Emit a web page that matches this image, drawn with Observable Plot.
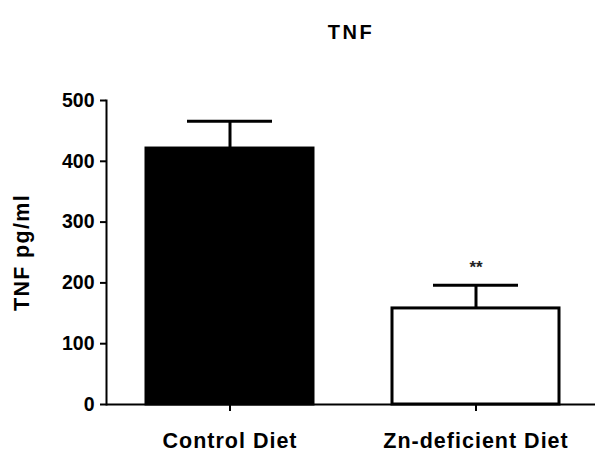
<!DOCTYPE html>
<html>
<head>
<meta charset="utf-8">
<script src="https://cdn.jsdelivr.net/npm/d3@7"></script>
<script src="https://cdn.jsdelivr.net/npm/@observablehq/plot@0.6"></script>
<style>
  body { margin: 0; background: #fff; }
  svg { font-family: "Liberation Sans", Arial, sans-serif; }
  g[aria-label="x-axis tick label"] text { letter-spacing: 1px; }
  .ylab text { letter-spacing: 1.3px; }
  .title text { letter-spacing: 2.5px; }
</style>
</head>
<body>
<div id="chart"></div>
<script>
const categories = ["Control Diet", "Zn-deficient Diet"];
const means = [421, 158];
const sems = [45, 38];
const significance = ["", "**"];
const yTicks = [0, 100, 200, 300, 400, 500];
const title = "TNF";
const yLabel = "TNF pg/ml";

const data = categories.map((c, i) => ({cat: c, mean: means[i], top: means[i] + sems[i], sig: significance[i]}));

const chart = Plot.plot({
  width: 595,
  height: 452,
  marginLeft: 106,
  marginRight: 0,
  marginTop: 100,
  marginBottom: 48,
  style: {fontFamily: "'Liberation Sans', Arial, sans-serif", fontWeight: "bold", color: "#000", background: "#fff"},
  x: {domain: categories, range: [106, 599], paddingInner: 0.32, paddingOuter: 0.16, label: null},
  y: {domain: [0, 500], label: null},
  marks: [
    Plot.barY(data, {x: "cat", y: "mean", fill: (d, i) => i === 0 ? "#000" : "#fff", stroke: "#000", strokeWidth: 3}),
    Plot.ruleX(data, {x: "cat", y1: "mean", y2: "top", stroke: "#000", strokeWidth: 3}),
    Plot.tickY(data, {x: "cat", y: "top", stroke: "#000", strokeWidth: 3, insetLeft: 41, insetRight: 41}),
    Plot.text(data, {x: "cat", y: "top", text: "sig", dy: -18, fontSize: 17, fontWeight: "bold", fill: "#222"}),
    Plot.ruleY([0], {stroke: "#000", strokeWidth: 2}),
    Plot.frame({anchor: "left", stroke: "#000", strokeWidth: 2}),
    Plot.axisY({ticks: yTicks, tickSize: 6, tickPadding: 6, fontSize: 19.5, fontWeight: "bold", strokeWidth: 2, label: null}),
    Plot.axisX({tickSize: 7, tickPadding: 21, fontSize: 21.5, fontWeight: "bold", strokeWidth: 2, label: null}),
    Plot.text([yLabel], {frameAnchor: "left", textAnchor: "middle", rotate: -90, dx: -84, fontSize: 21.5, fontWeight: "bold", fill: "#000", className: "ylab"}),
    Plot.text([title], {frameAnchor: "top", dy: -76, fontSize: 20, fontWeight: "bold", fill: "#000", className: "title"})
  ]
});
document.getElementById("chart").appendChild(chart);
</script>
</body>
</html>
